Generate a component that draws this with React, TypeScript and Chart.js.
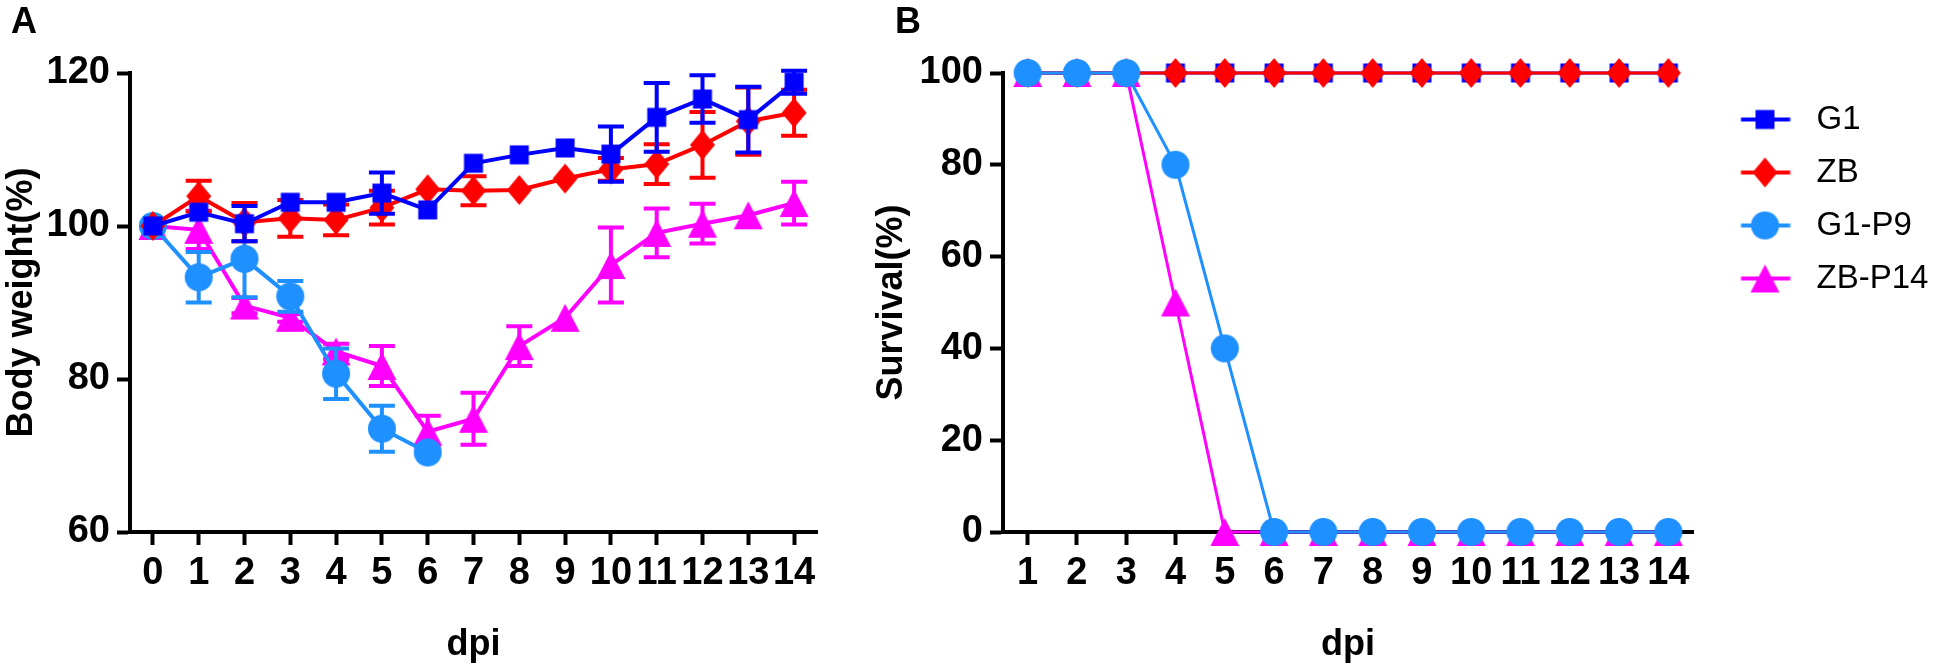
import React, { useEffect, useRef } from 'react';
import { Chart, registerables } from 'chart.js';

Chart.register(...registerables);

const FONT = "'Liberation Sans', Arial, Helvetica, sans-serif";

// ---------- Panel A: body weight ----------
const daysA = ['0', '1', '2', '3', '4', '5', '6', '7', '8', '9', '10', '11', '12', '13', '14'];
const g1Weight = [100, 101.8, 100.3, 103.1, 103.1, 104.3, 102.1, 108.2, 109.3, 110.2, 109.4, 114.2, 116.6, 113.9, 118.8];
const g1WeightErr = [0, 0, 2.3, 0, 0, 2.7, 0, 0, 0, 0, 3.6, 4.5, 3.1, 4.3, 1.5];
const zbWeight = [100, 103.9, 100.5, 101.0, 100.8, 102.4, 104.8, 104.6, 104.7, 106.2, 107.4, 108.1, 110.6, 113.7, 114.8];
const zbWeightErr = [0, 2, 2.5, 2.4, 2, 2.2, 0, 1.9, 0, 0, 1.5, 2.6, 4.3, 4.4, 3];
const g1p9Weight = [100, 93.3, 95.7, 90.8, 80.7, 73.5, 70.4];
const g1p9WeightErr = [0, 3.3, 5, 2, 3.3, 3, 0];
const zbp14Weight = [100, 99.5, 89.6, 88, 83.6, 81.7, 73.1, 74.8, 84.3, 88, 94.9, 99.1, 100.3, 101.4, 103];
const zbp14WeightErr = [0, 2.5, 1, 0.5, 1, 2.6, 2.1, 3.4, 2.6, 0, 4.9, 3.2, 2.6, 0, 2.8];
const weightAxis = [60, 120, 20]; // min, max, step

// ---------- Panel B: survival ----------
const daysB = ['1', '2', '3', '4', '5', '6', '7', '8', '9', '10', '11', '12', '13', '14'];
const g1Survival = [100, 100, 100, 100, 100, 100, 100, 100, 100, 100, 100, 100, 100, 100];
const zbSurvival = [100, 100, 100, 100, 100, 100, 100, 100, 100, 100, 100, 100, 100, 100];
const g1p9Survival = [100, 100, 100, 80, 40, 0, 0, 0, 0, 0, 0, 0, 0, 0];
const zbp14Survival = [100, 100, 100, 50, 0, 0, 0, 0, 0, 0, 0, 0, 0, 0];
const survivalAxis = [0, 100, 20];

const seriesNames = ['G1', 'ZB', 'G1-P9', 'ZB-P14'];
const seriesColors = ['#0000FF', '#FF0000', '#1E90FF', '#FF00FF'];
const seriesShapes = ['square', 'diamond', 'circle', 'triangle'];

const LEGEND_FONT = 33;
const LEGEND_PAD = 20;
const LEGEND_BOX = 87;

function drawShape(ctx: CanvasRenderingContext2D, shape: string, cx: number, cy: number, color: string) {
  ctx.fillStyle = color;
  ctx.beginPath();
  if (shape === 'square') {
    ctx.rect(cx - 9.5, cy - 9.5, 19, 19);
  } else if (shape === 'diamond') {
    ctx.moveTo(cx, cy - 15);
    ctx.lineTo(cx + 12.5, cy);
    ctx.lineTo(cx, cy + 15);
    ctx.lineTo(cx - 12.5, cy);
    ctx.closePath();
  } else if (shape === 'circle') {
    ctx.arc(cx, cy, 14, 0, Math.PI * 2);
  } else {
    ctx.moveTo(cx, cy - 14);
    ctx.lineTo(cx + 14.5, cy + 14);
    ctx.lineTo(cx - 14.5, cy + 14);
    ctx.closePath();
  }
  ctx.fill();
}

function makeMarker(shape: string, color: string) {
  const c = document.createElement('canvas');
  c.width = 32;
  c.height = 32;
  const ctx = c.getContext('2d')!;
  drawShape(ctx, shape, 16, 16, color);
  return c;
}

function makeLegendIcon(shape: string, color: string) {
  const c = document.createElement('canvas');
  c.width = 68;
  c.height = 34;
  const ctx = c.getContext('2d')!;
  ctx.strokeStyle = color;
  ctx.lineWidth = 4;
  ctx.beginPath();
  ctx.moveTo(18.5, 17);
  ctx.lineTo(67.5, 17);
  ctx.stroke();
  drawShape(ctx, shape, 42.5, 17, color);
  return c;
}

const errorBarPlugin = {
  id: 'errorBars',
  beforeDatasetDraw(chart: any, args: any) {
    const ds = chart.data.datasets[args.index];
    const errs: number[] | undefined = ds.errorBars;
    if (!errs) return;
    const yScale = chart.scales.y;
    const ctx: CanvasRenderingContext2D = chart.ctx;
    ctx.save();
    ctx.strokeStyle = ds.borderColor;
    ctx.lineWidth = 4;
    args.meta.data.forEach((pt: any, i: number) => {
      const v = ds.data[i];
      const e = errs[i];
      if (v == null || !e) return;
      const x = pt.x;
      const yt = yScale.getPixelForValue(v + e);
      const yb = yScale.getPixelForValue(v - e);
      ctx.beginPath();
      ctx.moveTo(x, yt);
      ctx.lineTo(x, yb);
      ctx.moveTo(x - 13, yt);
      ctx.lineTo(x + 13, yt);
      ctx.moveTo(x - 13, yb);
      ctx.lineTo(x + 13, yb);
      ctx.stroke();
    });
    ctx.restore();
  },
};

function letterPlugin(text: string, x: number, y: number) {
  return {
    id: 'panelLetter',
    afterDraw(chart: any) {
      const ctx: CanvasRenderingContext2D = chart.ctx;
      ctx.save();
      ctx.fillStyle = '#000';
      ctx.font = `bold 36px ${FONT}`;
      ctx.textBaseline = 'alphabetic';
      ctx.textAlign = 'left';
      ctx.fillText(text, x, y);
      ctx.restore();
    },
  };
}

const tickFont = { family: FONT, size: 38, weight: 'bold' as const };
const titleFont = { family: FONT, size: 36, weight: 'bold' as const };

function axisLook(tickLength: number) {
  return {
    grid: { display: true, drawOnChartArea: false, drawTicks: true, tickLength, tickWidth: 4, tickColor: '#000', offset: false },
    border: { display: true, color: '#000', width: 4 },
  };
}

export default function App() {
  const refA = useRef<HTMLCanvasElement>(null);
  const refB = useRef<HTMLCanvasElement>(null);

  useEffect(() => {
    const markers = seriesShapes.map((s, i) => makeMarker(s, seriesColors[i]));
    const icons = seriesShapes.map((s, i) => makeLegendIcon(s, seriesColors[i]));

    const weightData = [g1Weight, zbWeight, g1p9Weight, zbp14Weight];
    const weightErr = [g1WeightErr, zbWeightErr, g1p9WeightErr, zbp14WeightErr];

    const chartA = new Chart(refA.current!, {
      type: 'line',
      data: {
        labels: daysA,
        datasets: seriesNames.map((name, i) => ({
          label: name,
          data: weightData[i],
          borderColor: seriesColors[i],
          backgroundColor: seriesColors[i],
          borderWidth: 4,
          pointStyle: markers[i],
          pointRadius: 12,
          clip: false,
          tension: 0,
          errorBars: weightErr[i],
        })) as any,
      },
      options: {
        responsive: false,
        animation: false,
        devicePixelRatio: 1,
        events: [],
        layout: { padding: { left: 0, top: 73, right: 43, bottom: 0 } },
        plugins: { legend: { display: false }, tooltip: { enabled: false } },
        scales: {
          x: {
            type: 'category',
            offset: true,
            ...axisLook(13),
            ticks: { color: '#000', font: tickFont, padding: 6, maxRotation: 0, minRotation: 0, autoSkip: false },
            title: { display: true, text: 'dpi', color: '#000', font: titleFont, padding: { top: 0, bottom: 0 } },
            afterFit: (s: any) => { s.height = 135; },
          },
          y: {
            type: 'linear',
            min: weightAxis[0],
            max: weightAxis[1],
            ...axisLook(13),
            ticks: { color: '#000', font: tickFont, padding: 7, stepSize: weightAxis[2] },
            title: { display: true, text: 'Body weight(%)', color: '#000', font: titleFont, padding: { top: 0, bottom: 0 } },
            afterFit: (s: any) => { s.width = 130; },
          },
        },
      } as any,
      plugins: [errorBarPlugin, letterPlugin('A', 11, 33)],
    });

    // legend geometry for panel B
    const mctx = document.createElement('canvas').getContext('2d')!;
    mctx.font = `${LEGEND_FONT}px ${FONT}`;
    const maxText = Math.max(...seriesNames.map((n) => mctx.measureText(n).width));
    const legendW = LEGEND_PAD + (LEGEND_BOX + LEGEND_FONT / 2 + maxText) + 10;
    const padRightB = Math.max(0, 1086 - 833 - legendW);

    const survData = [g1Survival, zbSurvival, g1p9Survival, zbp14Survival];
    const survOrder = [2, 1, 0, 3];

    const chartB = new Chart(refB.current!, {
      type: 'line',
      data: {
        labels: daysB,
        datasets: seriesNames.map((name, i) => ({
          label: name,
          data: survData[i],
          borderColor: seriesColors[i],
          backgroundColor: seriesColors[i],
          borderWidth: 3,
          pointStyle: markers[i],
          pointRadius: 12,
          clip: false,
          tension: 0,
          order: survOrder[i],
        })) as any,
      },
      options: {
        responsive: false,
        animation: false,
        devicePixelRatio: 1,
        events: [],
        layout: { padding: { left: 0, top: 73, right: padRightB, bottom: 0 } },
        plugins: {
          tooltip: { enabled: false },
          legend: {
            display: true,
            position: 'right',
            align: 'start',
            title: { display: true, text: '', padding: 0, font: { size: 10, lineHeight: 1 } },
            labels: {
              usePointStyle: true,
              pointStyleWidth: LEGEND_BOX,
              padding: LEGEND_PAD,
              color: '#000',
              font: { family: FONT, size: LEGEND_FONT },
              generateLabels: () =>
                seriesNames.map((n, i) => ({
                  text: n,
                  fillStyle: seriesColors[i],
                  strokeStyle: seriesColors[i],
                  lineWidth: 0,
                  pointStyle: icons[i],
                  hidden: false,
                  datasetIndex: i,
                  fontColor: '#000',
                })),
            },
          },
        },
        scales: {
          x: {
            type: 'category',
            offset: true,
            ...axisLook(13),
            ticks: { color: '#000', font: tickFont, padding: 6, maxRotation: 0, minRotation: 0, autoSkip: false },
            title: { display: true, text: 'dpi', color: '#000', font: titleFont, padding: { top: 0, bottom: 0 } },
            afterFit: (s: any) => { s.height = 135; },
          },
          y: {
            type: 'linear',
            min: survivalAxis[0],
            max: survivalAxis[1],
            ...axisLook(13),
            ticks: { color: '#000', font: tickFont, padding: 7, stepSize: survivalAxis[2] },
            title: { display: true, text: 'Survival(%)', color: '#000', font: titleFont, padding: { top: 10, bottom: 0 } },
            afterFit: (s: any) => { s.width = 143; },
          },
        },
      } as any,
      plugins: [letterPlugin('B', 35, 33)],
    });

    return () => {
      chartA.destroy();
      chartB.destroy();
    };
  }, []);

  return (
    <div style={{ position: 'absolute', left: 0, top: 0, width: 1946, height: 667, background: '#fff' }}>
      <canvas ref={refA} width={860} height={667} style={{ position: 'absolute', left: 0, top: 0, width: 860, height: 667 }} />
      <canvas ref={refB} width={1086} height={667} style={{ position: 'absolute', left: 860, top: 0, width: 1086, height: 667 }} />
    </div>
  );
}
